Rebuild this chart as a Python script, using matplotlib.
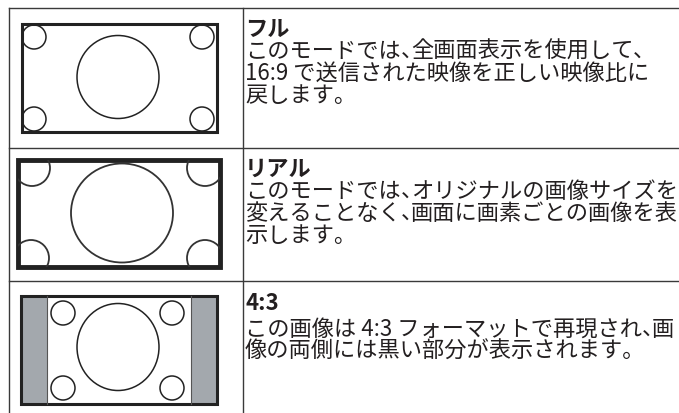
import matplotlib.pyplot as plt
from matplotlib.patches import Rectangle, Ellipse

plt.rcParams['font.family'] = ['Noto Sans CJK JP', 'DejaVu Sans']

# 表の中身
titles = ['フル', 'リアル', '4:3']
bodies = [
    ['このモードでは、全画面表示を使用して、',
     '16:9 で送信された映像を正しい映像比に',
     '戻します。'],
    ['このモードでは、オリジナルの画像サイズを',
     '変えることなく、画面に画素ごとの画像を表',
     '示します。'],
    ['この画像は 4:3 フォーマットで再現され、画',
     '像の両側には黒い部分が表示されます。'],
]
row_tops = [8, 148, 281]
title_base = [36, 176, 310]
body_base = [58, 198, 336]

ink = '#231f20'
line_c = '#3a3a3a'
gray = '#a3a8ad'

W, H = 679, 413
fig = plt.figure(figsize=(W / 100, H / 100), dpi=100)
ax = fig.add_axes([0, 0, 1, 1])
ax.set_xlim(0, W)
ax.set_ylim(H, 0)
ax.axis('off')
rend = fig.canvas.get_renderer()

# 罫線
for y in row_tops:
    ax.plot([9, W], [y, y], color=line_c, lw=1.0)
ax.plot([9, 9], [row_tops[0], H], color=line_c, lw=1.0)
ax.plot([243, 243], [row_tops[0], H], color=line_c, lw=1.0)

# フル
ax.add_patch(Rectangle((22, 24), 195, 108, fill=False, ec='#222', lw=2.2))
ax.add_patch(Ellipse((118, 77), 82, 83, fill=False, ec='#222', lw=1.1))
for cx, cy in [(34, 37), (34, 119), (202, 37), (202, 119)]:
    ax.add_patch(Ellipse((cx, cy), 24, 24, fill=False, ec='#222', lw=1.1))

# リアル
ax.add_patch(Rectangle((18, 160), 202, 107, fill=False, ec='#222', lw=3.5))
ax.add_patch(Ellipse((122, 213), 102, 99, fill=False, ec='#333', lw=1.3))
clip = Rectangle((18, 160), 202, 107, transform=ax.transData)
for cx, cy in [(32, 168), (31, 258), (205, 168), (205, 258)]:
    c = Ellipse((cx, cy), 36, 36, fill=False, ec='#333', lw=1.3)
    ax.add_patch(c)
    c.set_clip_path(clip)

# 4:3
ax.add_patch(Rectangle((21, 296), 26, 108, fc=gray, ec='none'))
ax.add_patch(Rectangle((191, 296), 26, 108, fc=gray, ec='none'))
ax.plot([47, 47], [296, 404], color='#555', lw=0.8)
ax.plot([191, 191], [296, 404], color='#555', lw=0.8)
ax.add_patch(Rectangle((21, 296), 196, 108, fill=False, ec='#222', lw=2.2))
ax.add_patch(Ellipse((118, 347), 82, 87, fill=False, ec='#222', lw=1.1))
for cx, cy in [(63, 313), (63, 388), (172, 313), (172, 388)]:
    ax.add_patch(Ellipse((cx, cy), 24, 24, fill=False, ec='#222', lw=1.1))

fs = 16
em = fs * 100 / 72


def put_line(x, y, s, **kw):
    # 「、」を半角幅で詰める
    parts = s.split('、')
    for i, p in enumerate(parts):
        if p:
            t = ax.text(x, y, p, va='baseline', ha='left', **kw)
            x = t.get_window_extent(rend).x1
        if i < len(parts) - 1:
            ax.text(x, y, '、', va='baseline', ha='left', **kw)
            x = x + em * 0.45


for t, tb, bb, lines in zip(titles, title_base, body_base, bodies):
    ax.text(245, tb, t, fontsize=fs, fontweight='bold', color=ink,
            va='baseline', ha='left')
    for i, s in enumerate(lines):
        put_line(245, bb + 22 * i, s, fontsize=fs, color=ink)

fig.savefig('out.png', dpi=100)
